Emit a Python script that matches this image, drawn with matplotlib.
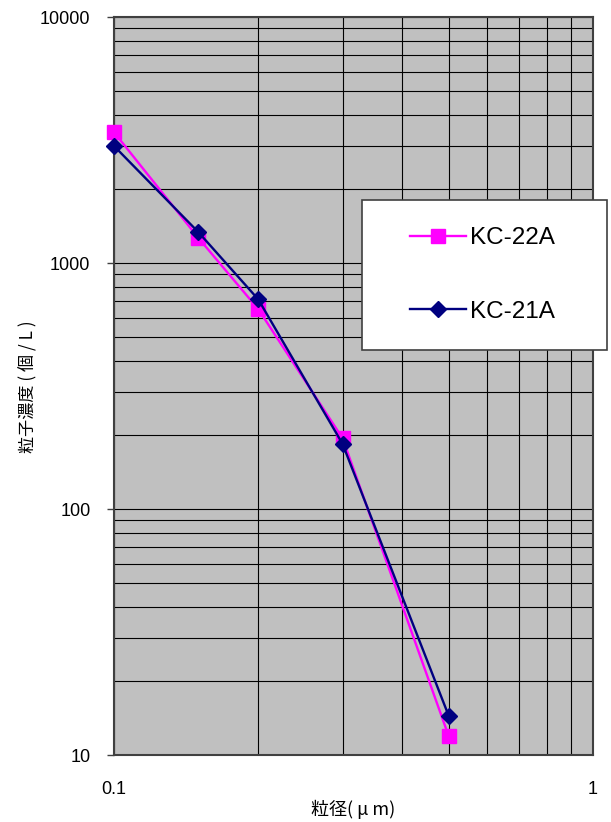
import matplotlib
matplotlib.use("Agg")
import matplotlib.pyplot as plt
from matplotlib.patches import Rectangle
from matplotlib.ticker import LogLocator, NullFormatter, FixedLocator, FixedFormatter

plt.rcParams['font.family'] = ['Liberation Sans', 'Noto Sans CJK JP', 'DejaVu Sans']

# data
sizes = [0.1, 0.15, 0.2, 0.3, 0.5]
kc22a = [3400, 1265, 650, 194, 11.9]
kc21a = [2990, 1335, 712, 184, 14.4]
series_names = ["KC-22A", "KC-21A"]
y_ticks = [10, 100, 1000, 10000]
y_ticklabels = ["10", "100", "1000", "10000"]
x_ticks = [0.1, 1]
x_ticklabels = ["0.1", "1"]

fig = plt.figure(figsize=(6.11, 8.22), dpi=100)
ax = fig.add_axes([114 / 611, 1 - 755 / 822, 479 / 611, 738 / 822])
ax.set_facecolor('#C0C0C0')

ax.set_xscale('log')
ax.set_yscale('log')
ax.set_xlim(0.1, 1)
ax.set_ylim(10, 10000)

# grid lines at every minor and major decade step
ax.xaxis.set_minor_locator(LogLocator(base=10, subs=range(2, 10)))
ax.yaxis.set_minor_locator(LogLocator(base=10, subs=range(2, 10)))
ax.xaxis.set_minor_formatter(NullFormatter())
ax.yaxis.set_minor_formatter(NullFormatter())
ax.grid(True, which='both', color='black', linewidth=0.8)
ax.set_axisbelow(True)

ax.yaxis.set_major_locator(FixedLocator(y_ticks))
ax.yaxis.set_major_formatter(FixedFormatter(y_ticklabels))
ax.xaxis.set_major_locator(FixedLocator(x_ticks))
ax.xaxis.set_major_formatter(FixedFormatter(x_ticklabels))
ax.tick_params(axis='y', which='major', length=5, width=1, color='#404040',
               labelsize=13, pad=12)
ax.tick_params(axis='x', which='major', length=0, labelsize=13, pad=19)
ax.tick_params(which='minor', length=0)

for s in ax.spines.values():
    s.set_color('#404040')
    s.set_linewidth(1.5)

ax.plot(sizes, kc22a, color='#FF00FF', lw=1.7, marker='s', markersize=10,
        label=series_names[0], clip_on=False, zorder=3)
ax.plot(sizes, kc21a, color='#000080', lw=1.7, marker='D', markersize=8,
        label=series_names[1], clip_on=False, zorder=4)

cjk = ['Noto Sans CJK JP', 'DejaVu Sans']
ax.set_xlabel("粒径( μ m)", fontsize=13, family=cjk, va='center', ha='center')
ax.xaxis.set_label_coords(0.5, (755 - 809) / 738)
ax.set_ylabel("粒子濃度 ( 個 / L )", fontsize=12.3, family=cjk, va='center', ha='center')
ax.yaxis.set_label_coords((28 - 114) / 479, (755 - 387) / 738)

# legend box
x0, x1 = 362 / 611, 607 / 611
y0, y1 = 1 - 350 / 822, 1 - 200 / 822
fig.patches.append(Rectangle((x0, y0), x1 - x0, y1 - y0, transform=fig.transFigure,
                             facecolor='white', edgecolor='#404040', lw=1.2, zorder=5))
leg = fig.legend(loc='center', bbox_to_anchor=((x0 + x1) / 2 - 2 / 611, (y0 + y1) / 2),
                 frameon=False, fontsize=17.5, handlelength=2.3, handletextpad=0.17,
                 labelspacing=2.1, borderpad=0)
leg.set_zorder(6)

fig.savefig("out.png", dpi=100)
